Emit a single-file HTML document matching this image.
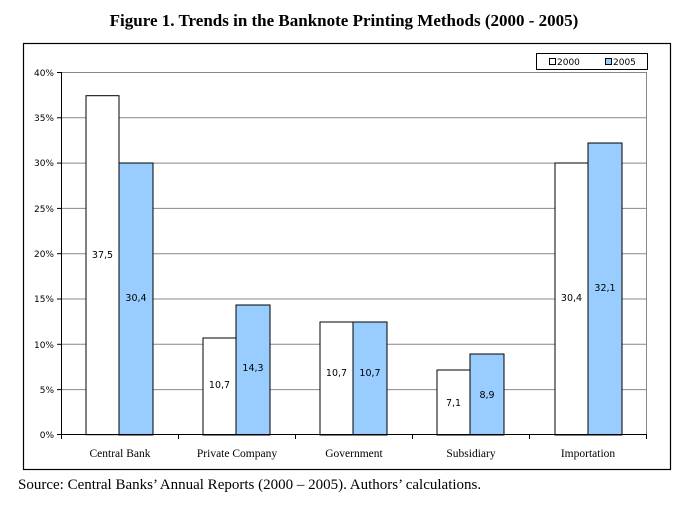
<!DOCTYPE html><html><head><style>body{margin:0;background:#fff;width:689px;height:505px;overflow:hidden}</style></head><body>
<svg width="689" height="505" xmlns="http://www.w3.org/2000/svg" font-family="Liberation Serif, serif">
<text x="344" y="26" text-anchor="middle" font-weight="bold" font-size="17">Figure 1. Trends in the Banknote Printing Methods (2000 - 2005)</text>
<rect x="23.5" y="43.5" width="647" height="426" fill="none" stroke="#000" stroke-width="1.2"/>
<g stroke="#888" stroke-width="1">
<line x1="61" y1="72.5" x2="647" y2="72.5"/><line x1="61" y1="117.8" x2="647" y2="117.8"/><line x1="61" y1="163.1" x2="647" y2="163.1"/><line x1="61" y1="208.4" x2="647" y2="208.4"/><line x1="61" y1="253.7" x2="647" y2="253.7"/><line x1="61" y1="299" x2="647" y2="299"/><line x1="61" y1="344.3" x2="647" y2="344.3"/><line x1="61" y1="389.6" x2="647" y2="389.6"/><line x1="646.5" y1="72.5" x2="646.5" y2="435"/>
</g>
<g font-family="DejaVu Sans, sans-serif" font-size="9" text-anchor="end">
<text x="54" y="76">40%</text><text x="54" y="121">35%</text><text x="54" y="166">30%</text><text x="54" y="212">25%</text><text x="54" y="257">20%</text><text x="54" y="302">15%</text><text x="54" y="348">10%</text><text x="54" y="393">5%</text><text x="54" y="438">0%</text>
</g>
<g stroke="#000" stroke-width="1">
<rect x="86" y="95.7" width="33" height="339" fill="#fff"/><rect x="119" y="163" width="34" height="272" fill="#99ccff"/>
<rect x="203" y="338" width="33" height="97" fill="#fff"/><rect x="236" y="305" width="34" height="130" fill="#99ccff"/>
<rect x="320" y="322" width="33" height="113" fill="#fff"/><rect x="353" y="322" width="34" height="113" fill="#99ccff"/>
<rect x="437" y="370" width="33" height="65" fill="#fff"/><rect x="470" y="354" width="34" height="81" fill="#99ccff"/>
<rect x="555" y="163" width="33" height="272" fill="#fff"/><rect x="588" y="143" width="34" height="292" fill="#99ccff"/>
<line x1="61.5" y1="72" x2="61.5" y2="435"/>
<line x1="57" y1="72.5" x2="61" y2="72.5"/><line x1="57" y1="117.8" x2="61" y2="117.8"/><line x1="57" y1="163.1" x2="61" y2="163.1"/><line x1="57" y1="208.4" x2="61" y2="208.4"/><line x1="57" y1="253.7" x2="61" y2="253.7"/><line x1="57" y1="299" x2="61" y2="299"/><line x1="57" y1="344.3" x2="61" y2="344.3"/><line x1="57" y1="389.6" x2="61" y2="389.6"/>
<line x1="57" y1="434.5" x2="647" y2="434.5"/>
<line x1="61.5" y1="434" x2="61.5" y2="439"/><line x1="178.5" y1="434" x2="178.5" y2="439"/><line x1="295.5" y1="434" x2="295.5" y2="439"/><line x1="412.5" y1="434" x2="412.5" y2="439"/><line x1="529.5" y1="434" x2="529.5" y2="439"/><line x1="646.5" y1="434" x2="646.5" y2="439"/>
</g>
<g font-family="DejaVu Sans, sans-serif" font-size="9.5" text-anchor="middle">
<text x="102.5" y="258">37,5</text><text x="136" y="301">30,4</text>
<text x="219.5" y="388">10,7</text><text x="253" y="371">14,3</text>
<text x="336.5" y="376">10,7</text><text x="370" y="376">10,7</text>
<text x="453.5" y="406">7,1</text><text x="487" y="398">8,9</text>
<text x="571.5" y="301">30,4</text><text x="605" y="291">32,1</text>
</g>
<g font-size="11.5" text-anchor="middle">
<text x="120" y="457">Central Bank</text><text x="237" y="457">Private Company</text><text x="354" y="457">Government</text><text x="471" y="457">Subsidiary</text><text x="588" y="457">Importation</text>
</g>
<rect x="536.5" y="53.5" width="111" height="16" fill="#fff" stroke="#000"/>
<rect x="549.5" y="58.5" width="6" height="6" fill="#fff" stroke="#000"/>
<rect x="605.5" y="58.5" width="6" height="6" fill="#99ccff" stroke="#000"/>
<g font-family="DejaVu Sans, sans-serif" font-size="9"><text x="557" y="65">2000</text><text x="613" y="65">2005</text></g>
<text x="18" y="489" font-size="15">Source: Central Banks’ Annual Reports (2000 – 2005). Authors’ calculations.</text>
</svg></body></html>
